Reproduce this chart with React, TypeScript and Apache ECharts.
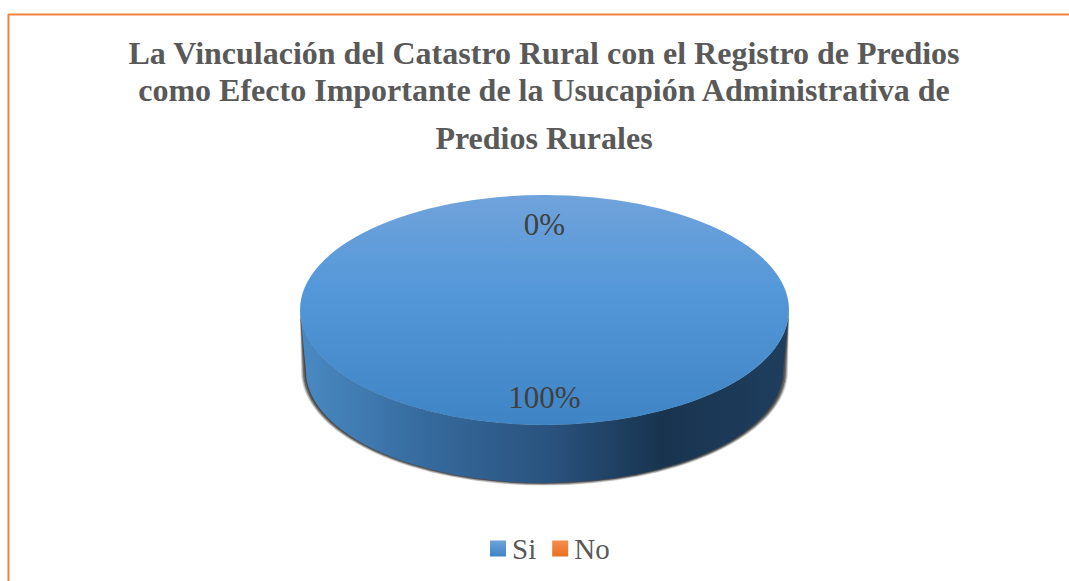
import React, { useEffect, useRef } from "react";
import * as echarts from "echarts";

const titleLines = [
  "La Vinculación del Catastro Rural con el Registro de Predios",
  "como Efecto Importante de la Usucapión Administrativa de",
  "Predios Rurales",
];
const categories = ["Si", "No"];
const values = [100, 0];

const FONT = '"Liberation Serif", "Times New Roman", serif';
const CX = 544.5, CY = 310, RX = 244.5, RY = 115;
const BCY = 371, BRX = 238.5, BRY = 112;

const topFill = {
  type: "linear", x: 0, y: 0, x2: 0, y2: 1,
  colorStops: [
    { offset: 0, color: "#70A3DB" },
    { offset: 0.4, color: "#5598D9" },
    { offset: 1, color: "#3F84C4" },
  ],
};
const wallFill = {
  type: "linear", x: 0, y: 0, x2: 1, y2: 0,
  colorStops: [
    { offset: 0, color: "#4A8AC4" },
    { offset: 0.25, color: "#366B9E" },
    { offset: 0.5, color: "#2A5480" },
    { offset: 0.74, color: "#18344F" },
    { offset: 1, color: "#1F3E5E" },
  ],
};
const legendFills = [
  { type: "linear", x: 0, y: 0, x2: 0, y2: 1, colorStops: [{ offset: 0, color: "#6CA3DC" }, { offset: 1, color: "#3F84C4" }] },
  { type: "linear", x: 0, y: 0, x2: 0, y2: 1, colorStops: [{ offset: 0, color: "#F58D50" }, { offset: 1, color: "#E8701F" }] },
];
const shadowLayers = [
  { growX: 5, growY: 2.5, color: "#D8D8D8" },
  { growX: 4, growY: 2, color: "#A8A8A8" },
  { growX: 3, growY: 1, color: "#6A6A6A" },
  { growX: 1.5, growY: 0.5, color: "#4A4A4A" },
];

const total = values.reduce((a, b) => a + b, 0);
const pt = (a: number, cx: number, cy: number, rx: number, ry: number) =>
  `${cx + rx * Math.sin(a)} ${cy - ry * Math.cos(a)}`;

function arcTo(a0: number, a1: number, cx: number, cy: number, rx: number, ry: number) {
  const steps = Math.max(1, Math.ceil(Math.abs(a1 - a0) / (Math.PI / 2)));
  let d = "";
  for (let i = 1; i <= steps; i++) {
    const a = a0 + ((a1 - a0) * i) / steps;
    d += ` A ${rx} ${ry} 0 0 ${a1 > a0 ? 1 : 0} ${pt(a, cx, cy, rx, ry)}`;
  }
  return d;
}

function wallPath(w0: number, w1: number, growX: number, growY: number) {
  return (
    `M ${pt(w0, CX, CY, RX, RY)}` + arcTo(w0, w1, CX, CY, RX, RY) +
    ` L ${pt(w1, CX, BCY, BRX + growX, BRY + growY)}` +
    arcTo(w1, w0, CX, BCY, BRX + growX, BRY + growY) + " Z"
  );
}

function makeRenderItem(index: number) {
  return (_params: any, api: any) => {
    const before = values.slice(0, index).reduce((a, b) => a + b, 0);
    const value = api.value(0);
    const a0 = (before / total) * Math.PI * 2;
    const a1 = ((before + value) / total) * Math.PI * 2;
    const children: any[] = [];
    if (a1 > a0) {
      const w0 = Math.max(a0, Math.PI / 2);
      const w1 = Math.min(a1, (Math.PI * 3) / 2);
      if (w1 > w0) {
        shadowLayers.forEach((s) => {
          children.push({
            type: "path",
            shape: { pathData: wallPath(w0, w1, s.growX, s.growY) },
            style: { fill: s.color },
          });
        });
        children.push({
          type: "path",
          shape: { pathData: wallPath(w0, w1, 0, 0) },
          style: { fill: wallFill },
        });
      }
      const top =
        `M ${CX} ${CY} L ${pt(a0, CX, CY, RX, RY)}` + arcTo(a0, a1, CX, CY, RX, RY) + " Z";
      children.push({
        type: "path",
        shape: { pathData: top },
        style: { fill: topFill },
      });
    }
    const mid = (a0 + a1) / 2;
    children.push({
      type: "text",
      x: CX + RX * 0.75 * Math.sin(mid),
      y: CY + 1 - RY * 0.75 * Math.cos(mid),
      z2: 10,
      style: {
        text: `${Math.round((value / total) * 100)}%`,
        font: `31px ${FONT}`,
        fill: "#404040",
        align: "center",
        verticalAlign: "middle",
      },
    });
    return { type: "group", children };
  };
}

export default function App() {
  const ref = useRef<HTMLDivElement>(null);
  useEffect(() => {
    const chart = echarts.init(ref.current!, undefined, { renderer: "svg" });
    const tops = [37, 74, 122];
    chart.setOption({
      animation: false,
      backgroundColor: "#FFFFFF",
      title: titleLines.map((text, i) => ({
        text,
        left: 544,
        top: tops[i],
        textAlign: "center",
        padding: 0,
        textStyle: { fontFamily: FONT, fontWeight: "bold", fontSize: 32, color: "#595959" },
      })),
      legend: {
        left: 490,
        top: 534,
        padding: 0,
        itemWidth: 16,
        itemHeight: 16,
        itemGap: 16,
        icon: "rect",
        selectedMode: false,
        textStyle: { fontFamily: FONT, fontSize: 29, color: "#595959", padding: [0, 0, 0, 1] },
        data: categories.map((name, i) => ({ name, itemStyle: { color: legendFills[i] } })),
      },
      graphic: [
        { type: "line", silent: true, shape: { x1: 8.5, y1: 14, x2: 8.5, y2: 581 }, style: { stroke: "#F0843F", lineWidth: 2 } },
        { type: "line", silent: true, shape: { x1: 8, y1: 14.5, x2: 1069, y2: 14.5 }, style: { stroke: "#F0843F", lineWidth: 2 } },
      ],
      series: categories.map((name, i) => ({
        type: "custom",
        name,
        coordinateSystem: "none",
        silent: true,
        itemStyle: { color: legendFills[i] },
        data: [[values[i]]],
        renderItem: makeRenderItem(i),
      })),
    });
    return () => chart.dispose();
  }, []);
  return <div ref={ref} style={{ position: "fixed", left: 0, top: 0, width: 1069, height: 581 }} />;
}
